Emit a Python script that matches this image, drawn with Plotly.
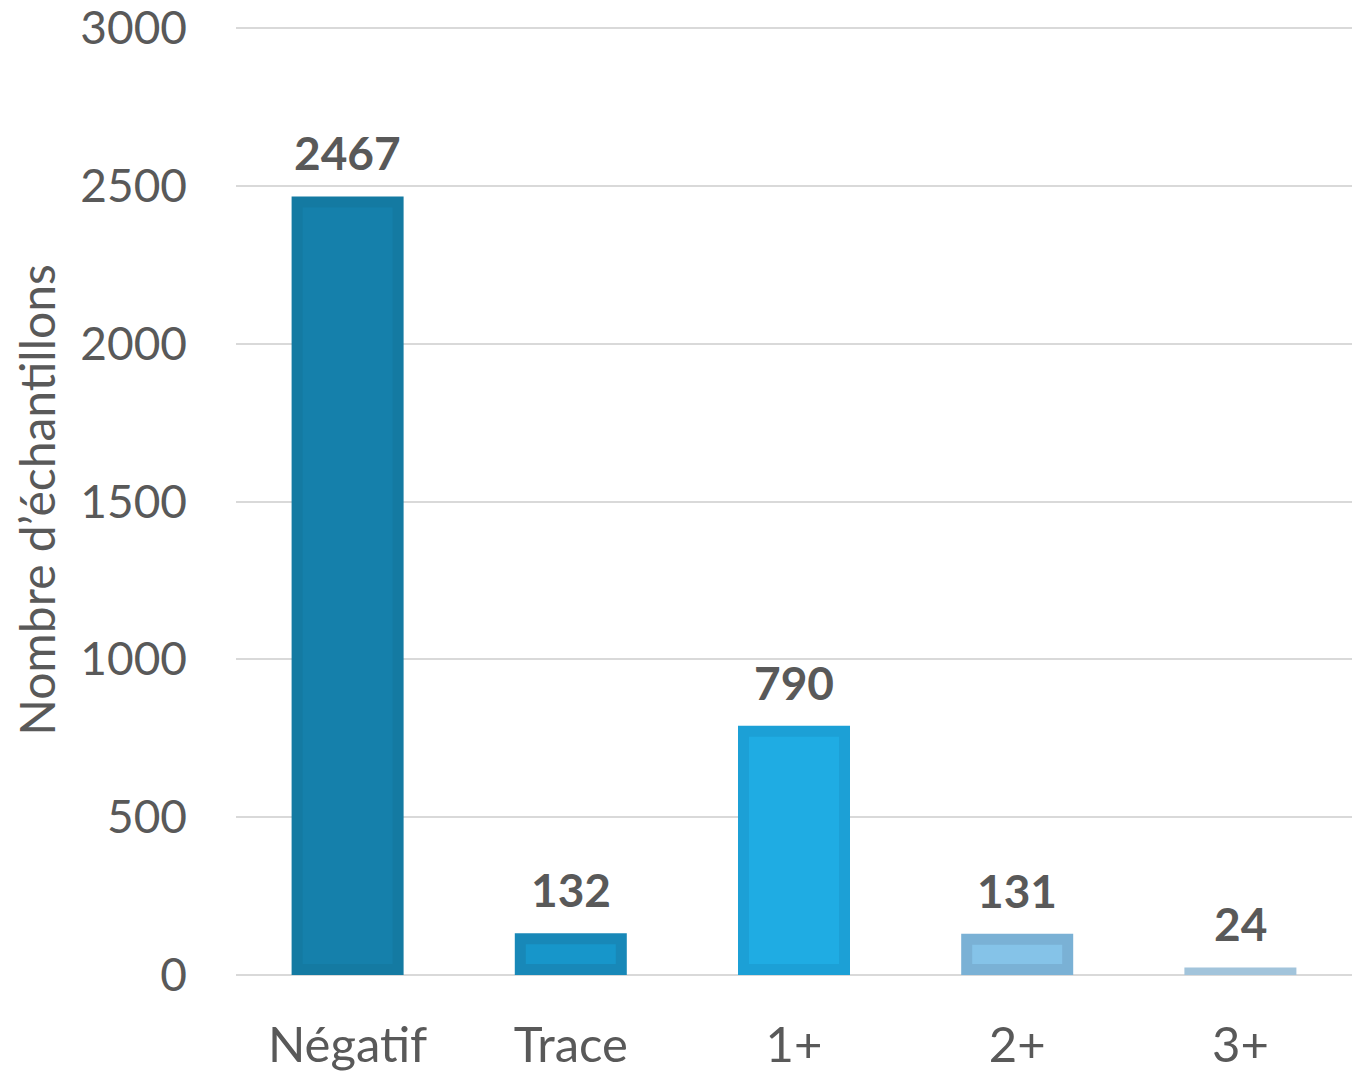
import plotly.graph_objects as go

categories = ["Négatif", "Trace", "1+", "2+", "3+"]
values = [2467, 132, 790, 131, 24]
fill_colors = ["#1580AB", "#1796CA", "#1FACE3", "#85C3E8", "#A2C4DB"]
border_colors = ["#147AA2", "#1888B8", "#1CA0D6", "#7AB1D5", "#A2C4DB"]
y_ticks = [0, 500, 1000, 1500, 2000, 2500, 3000]

FONT = "Lato"
GREY = "#595959"
Y_TOP = 3010
PLOT_H = 950  # px
PLOT_W = 1116
px_per_unit = PLOT_H / Y_TOP
inset_px = 11
inset_units = inset_px / px_per_unit
cat_px = PLOT_W / len(categories)
outer_w = 112 / cat_px
inner_w = (112 - 2 * inset_px) / cat_px

inner_y = [max(v - 2 * inset_units, 0) for v in values]

fig = go.Figure()
fig.add_trace(go.Bar(x=categories, y=values, width=outer_w,
                     marker=dict(color=border_colors, line=dict(width=0)),
                     hoverinfo="skip", showlegend=False))
fig.add_trace(go.Bar(x=categories, y=inner_y, base=inset_units, width=inner_w,
                     marker=dict(color=fill_colors, line=dict(width=0)),
                     showlegend=False))

for c, v in zip(categories, values):
    fig.add_annotation(x=c, y=v, text=f"<b>{v}</b>", showarrow=False,
                       yanchor="bottom", yshift=14,
                       font=dict(family=FONT, size=46, color=GREY))

fig.update_layout(
    width=1366, height=1071,
    margin=dict(l=228, r=22, t=17, b=104),
    plot_bgcolor="white", paper_bgcolor="white",
    barmode="overlay",
    font=dict(family=FONT, color=GREY, size=46),
    xaxis=dict(showgrid=False, showline=False, ticks="", automargin=False,
               tickfont=dict(family=FONT, size=49, color=GREY),
               ticklabelstandoff=37, ticklabeloverflow="allow"),
    yaxis=dict(range=[0, Y_TOP], tickvals=y_ticks, showgrid=True,
               gridcolor="#D9D9D9", gridwidth=2, zeroline=True,
               zerolinecolor="#D9D9D9", zerolinewidth=2, showline=False,
               automargin=False, ticklabeloverflow="allow",
               ticks="", tickfont=dict(family=FONT, size=46, color=GREY),
               ticklabelstandoff=48,
               title=dict(text="Nombre d’échantillons",
                          font=dict(family=FONT, size=48, color=GREY),
                          standoff=20)),
)

fig.write_html("out.html")
